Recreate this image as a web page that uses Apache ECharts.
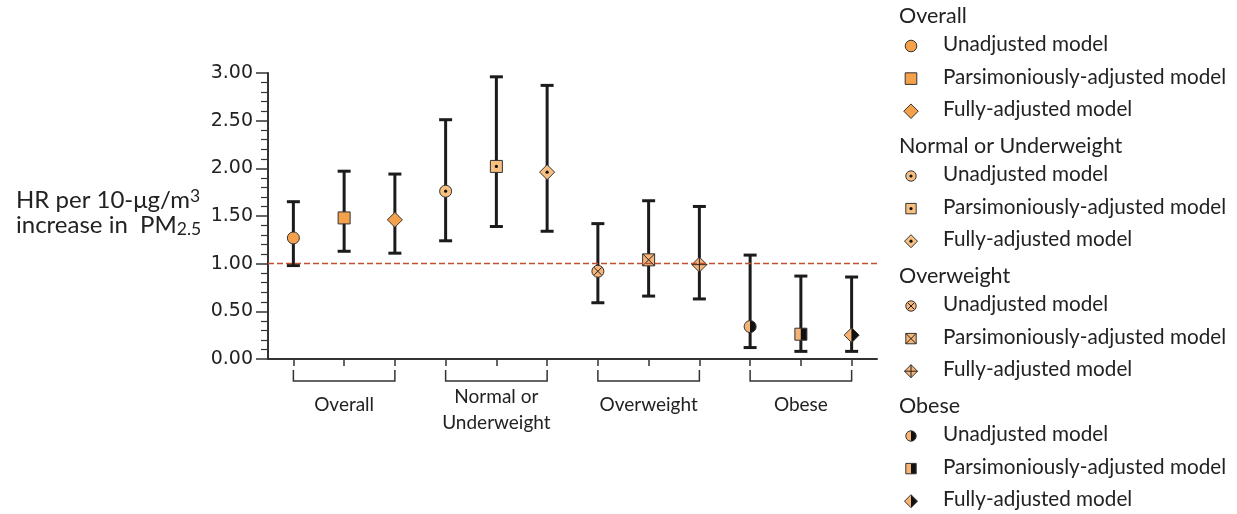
<!DOCTYPE html>
<html><head><meta charset="utf-8">
<script src="https://cdn.jsdelivr.net/npm/echarts@6/dist/echarts.min.js"></script>
<style>html,body{margin:0;padding:0;background:#fff}#c{width:1237px;height:514px}</style>
</head><body><div id="c"></div>
<script>
// ---------------- data ----------------
const groups = ['Overall', 'Normal or Underweight', 'Overweight', 'Obese'];
const groupAxisLabels = ['Overall', 'Normal or\nUnderweight', 'Overweight', 'Obese'];
const models = ['Unadjusted model', 'Parsimoniously-adjusted model', 'Fully-adjusted model'];
const pointCategories = groups.flatMap(g => models.map(m => g + ' – ' + m));
const hr    = [1.27, 1.48, 1.46,  1.76, 2.02, 1.96,  0.92, 1.04, 0.99,  0.34, 0.26, 0.25];
const lower = [0.98, 1.13, 1.11,  1.24, 1.39, 1.34,  0.59, 0.66, 0.63,  0.12, 0.08, 0.08];
const upper = [1.65, 1.97, 1.94,  2.51, 2.96, 2.87,  1.42, 1.66, 1.60,  1.09, 0.87, 0.86];
const referenceHR = 1.0;
const yMin = 0, yMax = 3, yStep = 0.5;

// ---------------- styles ----------------
const FILLS = ['#f5a04b', '#f8c080', '#f6b579', '#f6b474'];
const EDGE = '#333333';
const INK = '#1b1b1b';
const TEXT = '#222222';
const FONT = 'Lato';

function markerShapes(g, m, cx, cy, r) {
  const fill = FILLS[g];
  const st = {stroke: EDGE, lineWidth: 1};
  const out = [];
  const d = r * 1.25; // diamond half diagonal
  if (g === 3) {
    if (m === 0) {
      out.push({type: 'sector', shape: {cx, cy, r0: 0, r, startAngle: Math.PI / 2, endAngle: Math.PI * 1.5, clockwise: true}, style: {fill}});
      out.push({type: 'sector', shape: {cx, cy, r0: 0, r, startAngle: -Math.PI / 2, endAngle: Math.PI / 2, clockwise: true}, style: {fill: '#111'}});
      out.push({type: 'circle', shape: {cx, cy, r}, style: {fill: 'none', ...st}});
    } else if (m === 1) {
      out.push({type: 'rect', shape: {x: cx - r, y: cy - r, width: r, height: 2 * r}, style: {fill}});
      out.push({type: 'rect', shape: {x: cx, y: cy - r, width: r, height: 2 * r}, style: {fill: '#111'}});
      out.push({type: 'rect', shape: {x: cx - r, y: cy - r, width: 2 * r, height: 2 * r}, style: {fill: 'none', ...st}});
    } else {
      out.push({type: 'polygon', shape: {points: [[cx, cy - d], [cx - d, cy], [cx, cy + d]]}, style: {fill}});
      out.push({type: 'polygon', shape: {points: [[cx, cy - d], [cx + d, cy], [cx, cy + d]]}, style: {fill: '#111'}});
      out.push({type: 'polygon', shape: {points: [[cx, cy - d], [cx + d, cy], [cx, cy + d], [cx - d, cy]]}, style: {fill: 'none', ...st}});
    }
    return out;
  }
  if (m === 0) out.push({type: 'circle', shape: {cx, cy, r}, style: {fill, ...st}});
  else if (m === 1) out.push({type: 'rect', shape: {x: cx - r, y: cy - r, width: 2 * r, height: 2 * r}, style: {fill, ...st}});
  else out.push({type: 'polygon', shape: {points: [[cx, cy - d], [cx + d, cy], [cx, cy + d], [cx - d, cy]]}, style: {fill, ...st}});
  if (g === 1) {
    out.push({type: 'circle', shape: {cx, cy, r: 1.6}, style: {fill: '#111'}});
  } else if (g === 2) {
    const ls = {stroke: '#222', lineWidth: 1};
    if (m === 0) {
      const k = r * 0.62;
      out.push({type: 'line', shape: {x1: cx - k, y1: cy - k, x2: cx + k, y2: cy + k}, style: ls});
      out.push({type: 'line', shape: {x1: cx - k, y1: cy + k, x2: cx + k, y2: cy - k}, style: ls});
    } else if (m === 1) {
      out.push({type: 'line', shape: {x1: cx - r, y1: cy - r, x2: cx + r, y2: cy + r}, style: ls});
      out.push({type: 'line', shape: {x1: cx - r, y1: cy + r, x2: cx + r, y2: cy - r}, style: ls});
    } else {
      out.push({type: 'line', shape: {x1: cx, y1: cy - d, x2: cx, y2: cy + d}, style: ls});
      out.push({type: 'line', shape: {x1: cx - d, y1: cy, x2: cx + d, y2: cy}, style: ls});
    }
  }
  return out;
}

// ---------------- legend (graphic) ----------------
const legendGraphic = [];
groups.forEach((g, gi) => {
  const hy = 17 + gi * 130;
  legendGraphic.push({type: 'text', left: 899, top: hy - 12, style: {text: g, fontFamily: FONT, fontSize: 21.5, fill: TEXT}});
  models.forEach((m, mi) => {
    const iy = hy + 29 + mi * 32.6;
    legendGraphic.push({type: 'group', children: markerShapes(gi, mi, 911, iy, gi === 0 ? 5.8 : 5.2)});
    legendGraphic.push({type: 'text', left: 943, top: iy - 12, style: {text: m, fontFamily: FONT, fontSize: 20.7, fill: TEXT}});
  });
});

const chart = echarts.init(document.getElementById('c'), null, {renderer: 'canvas'});
const gridPos = {left: 268, right: 360, top: 73, bottom: 155};
const catLabelStyle = {verticalAlign: 'top', fontFamily: FONT, fontSize: 19, lineHeight: 26, color: TEXT};

chart.setOption({
  animation: false,
  backgroundColor: '#fff',
  grid: [Object.assign({}, gridPos), Object.assign({}, gridPos)],
  xAxis: [{
    type: 'category', gridIndex: 0, data: pointCategories, boundaryGap: true,
    axisLine: {lineStyle: {color: '#333', width: 2}},
    axisTick: {show: true, alignWithLabel: true, interval: 0, length: 7, lineStyle: {color: '#333', width: 1.5}},
    axisLabel: {show: false}, splitLine: {show: false}
  }, {
    type: 'category', gridIndex: 1,
    data: groupAxisLabels.map(v => ({value: v, textStyle: Object.assign({}, catLabelStyle, {padding: [v.indexOf('\n') >= 0 ? 0 : 8, 0, 0, 0]})})),
    axisLine: {show: false}, axisTick: {show: false},
    axisLabel: Object.assign({margin: 25, interval: 0}, catLabelStyle)
  }],
  yAxis: [{
    type: 'value', gridIndex: 0, min: yMin, max: yMax, interval: yStep,
    name: '{t|HR per 10-μg/m}{sup|3}\n{t|increase in  PM}{sub|2.5}',
    nameLocation: 'middle', nameRotate: 0, nameGap: 252, nameMoveOverlap: false,
    nameTextStyle: {align: 'left', verticalAlign: 'middle', padding: [0, 0, 6, 0], rich: {
      t: {fontFamily: FONT, fontSize: 24, color: TEXT, lineHeight: 25.5},
      sup: {fontFamily: FONT, fontSize: 17.5, color: TEXT, lineHeight: 12, verticalAlign: 'top'},
      sub: {fontFamily: FONT, fontSize: 17.5, color: TEXT, lineHeight: 10, verticalAlign: 'bottom'}
    }},
    axisLine: {show: true, lineStyle: {color: '#333', width: 2}},
    axisTick: {show: true, length: 12, lineStyle: {color: '#333', width: 1.5}},
    minorTick: {show: true, splitNumber: 5, length: 7, lineStyle: {color: '#333', width: 1.2}},
    axisLabel: {formatter: v => v.toFixed(2), margin: 15, fontFamily: 'DejaVu Sans', fontSize: 19, color: TEXT},
    splitLine: {show: false}
  }, {
    type: 'value', gridIndex: 1, show: false
  }],
  series: [{
    type: 'custom', name: 'HR', xAxisIndex: 0, yAxisIndex: 0,
    data: hr.map((v, i) => [i, v, lower[i], upper[i]]),
    encode: {x: 0, y: [1, 2, 3]},
    renderItem: function (params, api) {
      const i = api.value(0);
      const p = api.coord([i, api.value(1)]);
      const yLo = api.coord([i, api.value(2)])[1];
      const yHi = api.coord([i, api.value(3)])[1];
      const x = p[0], cap = 6.5;
      const ls = {stroke: INK, lineWidth: 3};
      const g = Math.floor(i / 3), m = i % 3;
      const children = [
        {type: 'line', shape: {x1: x, y1: yHi, x2: x, y2: yLo}, style: ls},
        {type: 'line', shape: {x1: x - cap, y1: yHi, x2: x + cap, y2: yHi}, style: ls},
        {type: 'line', shape: {x1: x - cap, y1: yLo, x2: x + cap, y2: yLo}, style: ls}
      ].concat(markerShapes(g, m, x, p[1], 6));
      return {type: 'group', children};
    },
    markLine: {
      silent: true, symbol: 'none', label: {show: false},
      lineStyle: {color: '#c0502f', type: [6, 3], width: 1.3},
      data: [{yAxis: referenceHR}]
    },
    z: 3
  }, {
    type: 'custom', name: 'brackets', xAxisIndex: 0, yAxisIndex: 0, silent: true, clip: false,
    data: groups.map((g, k) => [k * 3, k * 3 + 2, yMin]),
    encode: {x: [0, 1], y: 2},
    renderItem: function (params, api) {
      const a = api.coord([api.value(0), api.value(2)]);
      const b = api.coord([api.value(1), api.value(2)]);
      const y0 = a[1];
      return {type: 'polyline', shape: {points: [[a[0], y0 + 11], [a[0], y0 + 22], [b[0], y0 + 22], [b[0], y0 + 11]]},
        style: {stroke: '#333', lineWidth: 1.5, fill: 'none'}};
    }
  }],
  graphic: legendGraphic
});
</script></body></html>
